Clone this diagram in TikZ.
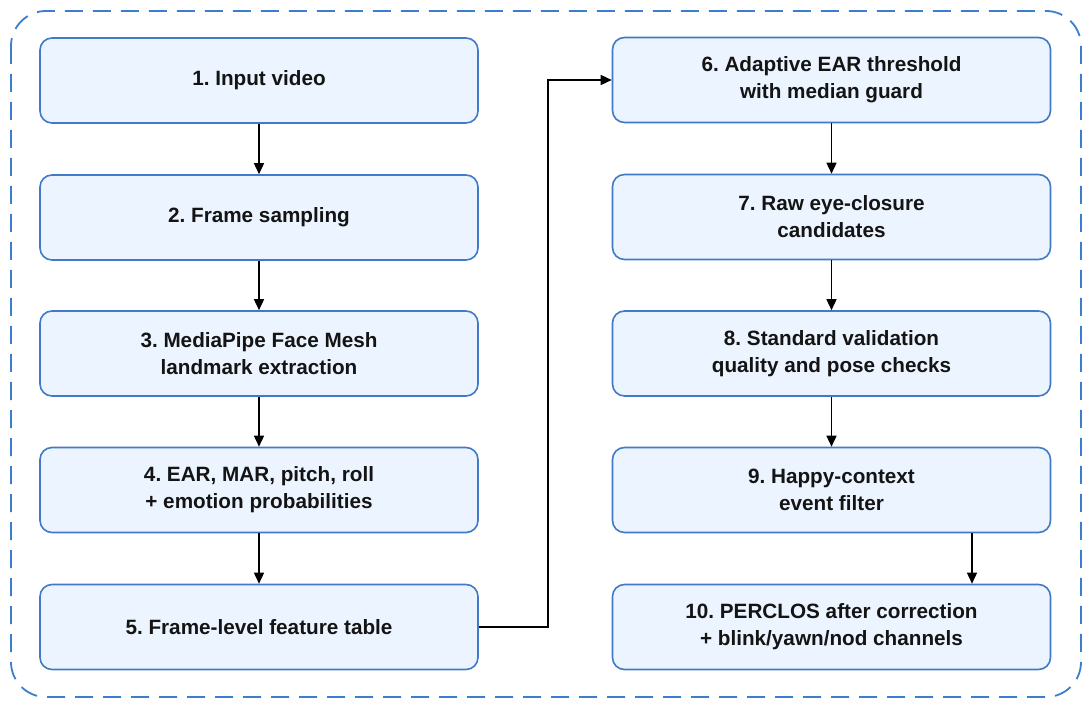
\documentclass[tikz,border=0pt]{standalone}
\usepackage{fontspec}
\setmainfont{Liberation Sans}
\usetikzlibrary{arrows.meta}
\definecolor{boxfill}{RGB}{236,245,255}
\definecolor{boxdraw}{RGB}{64,122,200}
\definecolor{outerdash}{RGB}{60,125,205}
\definecolor{txt}{RGB}{20,20,20}
\tikzset{
  stepbox/.style={draw=boxdraw, line width=1.6pt, fill=boxfill, rounded corners=12pt,
    minimum width=438pt, minimum height=85pt, align=center, text=txt,
    font=\fontsize{20.7pt}{27pt}\selectfont\bfseries\frenchspacing, inner sep=0pt},
  flow/.style={draw=black, line width=1.5pt, -{Triangle[length=11pt,width=10pt]}},
}
\begin{document}
\begin{tikzpicture}[x=1pt,y=-1pt]
\useasboundingbox (0,0) rectangle (1092,708);
\draw[outerdash, line width=1.8pt, dash pattern=on 18pt off 10pt, rounded corners=35pt]
  (11,11) rectangle (1081,697);
\node[stepbox] (n1) at (259,80.5) {1. Input video};
\node[stepbox] (n2) at (259,217.5) {2. Frame sampling};
\node[stepbox] (n3) at (259,353.5) {3. MediaPipe Face Mesh\\landmark extraction};
\node[stepbox] (n4) at (259,490) {4. EAR, MAR, pitch, roll\\+ emotion probabilities};
\node[stepbox] (n5) at (259,627) {5. Frame-level feature table};
\node[stepbox] (n6) at (831.5,80) {6. Adaptive EAR threshold\\with median guard};
\node[stepbox] (n7) at (831.5,217) {7. Raw eye-closure\\candidates};
\node[stepbox] (n8) at (831.5,353.5) {8. Standard validation\\quality and pose checks};
\node[stepbox] (n9) at (831.5,490) {9. Happy-context\\event filter};
\node[stepbox] (n10) at (831.5,627) {10. PERCLOS after correction\\+ blink/yawn/nod channels};
\draw[flow] (n1) -- (n2);
\draw[flow] (n2) -- (n3);
\draw[flow] (n3) -- (n4);
\draw[flow] (n4) -- (n5);
\draw[flow] (n5.east) -- ++(69,0) |- (n6.west);
\draw[flow] (n6) -- (n7);
\draw[flow] (n7) -- (n8);
\draw[flow] (n8) -- (n9);
\draw[flow] (n9.south -| 972,0) -- (n10.north -| 972,0);
\end{tikzpicture}
\end{document}
